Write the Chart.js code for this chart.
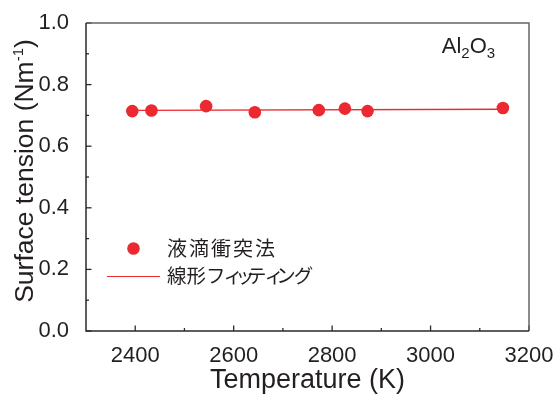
<!DOCTYPE html>
<html>
<head>
<meta charset="utf-8">
<script src="https://cdn.jsdelivr.net/npm/chart.js@4.4.1/dist/chart.umd.min.js"></script>
<style>
  html, body { margin: 0; padding: 0; background: #fff; }
  #wrap { width: 553px; height: 394px; position: relative; }
</style>
</head>
<body>
<div id="wrap"><canvas id="c" width="553" height="394"></canvas></div>
<script>
// ---- data ----
const temperatures = [2394, 2433, 2544, 2643, 2773, 2826, 2872, 3147];
const tensions     = [0.714, 0.716, 0.730, 0.710, 0.717, 0.722, 0.714, 0.724];
const fitTemps     = [2394, 3147];
const fitValues    = [0.716, 0.720];
const xTickValues  = [2400, 2600, 2800, 3000, 3200];
const xMinorValues = [2500, 2700, 2900, 3100];
const yTickValues  = [0.0, 0.2, 0.4, 0.6, 0.8, 1.0];
const yMinorValues = [0.1, 0.3, 0.5, 0.7, 0.9];
const seriesLabels = ['液滴衝突法', '線形フィッティング'];
const xTitle = 'Temperature (K)';
const yTitle = 'Surface tension (Nm';
const ySup = '-1';
const sampleLabel = ['Al', '2', 'O', '3'];

const RED = '#ec2830';
const LATIN = '"Liberation Sans", Arial, Helvetica, sans-serif';
const CJK = '"Noto Sans CJK JP", sans-serif';

// draws text char by char with proportional-like advances for katakana
function drawTight(ctx, text, x, y) {
  const smallKana = 'ァィゥェォッャュョ';
  const kana = /[\u30A0-\u30FF]/;
  for (const ch of text) {
    ctx.fillText(ch, x, y);
    const w = ctx.measureText(ch).width;
    const f = smallKana.includes(ch) ? 0.6 : (kana.test(ch) ? 0.9 : 1.0);
    x += w * f;
  }
}

const decor = {
  id: 'decor',
  beforeDatasetsDraw(chart) {
    const { ctx, chartArea: a, scales: { x, y } } = chart;
    ctx.save();
    ctx.lineWidth = 1.3;
    ctx.strokeStyle = '#2a2a2a';
    const tick = (px, py, dx, dy) => { ctx.beginPath(); ctx.moveTo(px, py); ctx.lineTo(px + dx, py + dy); ctx.stroke(); };
    xTickValues.forEach(v => { const p = x.getPixelForValue(v); tick(p, a.bottom, 0, -5.5); });
    xMinorValues.forEach(v => { const p = x.getPixelForValue(v); tick(p, a.bottom, 0, -3); });
    yTickValues.forEach(v => { const p = y.getPixelForValue(v); tick(a.left, p, 5.5, 0); });
    yMinorValues.forEach(v => { const p = y.getPixelForValue(v); tick(a.left, p, 3, 0); });
    // frame
    ctx.lineWidth = 1.5;
    ctx.strokeStyle = '#666';
    ctx.beginPath();
    ctx.moveTo(a.left, a.top); ctx.lineTo(a.right, a.top); ctx.lineTo(a.right, a.bottom);
    ctx.stroke();
    ctx.strokeStyle = '#2a2a2a';
    ctx.beginPath();
    ctx.moveTo(a.left, a.top); ctx.lineTo(a.left, a.bottom); ctx.lineTo(a.right, a.bottom);
    ctx.stroke();
    ctx.restore();
  },
  afterDraw(chart) {
    const { ctx, chartArea: a } = chart;
    ctx.save();
    ctx.fillStyle = '#231f20';
    // y title with superscript
    ctx.save();
    const fMain = '26.5px ' + LATIN, fSup = '15px ' + LATIN;
    ctx.font = fMain; const w1 = ctx.measureText(yTitle).width; const w3 = ctx.measureText(')').width;
    ctx.font = fSup; const w2 = ctx.measureText(ySup).width;
    const total = w1 + w2 + w3;
    ctx.translate(33, 171);
    ctx.rotate(-Math.PI / 2);
    ctx.textBaseline = 'alphabetic';
    ctx.textAlign = 'left';
    let sx = -total / 2;
    ctx.font = fMain; ctx.fillText(yTitle, sx, 0); sx += w1;
    ctx.font = fSup; ctx.fillText(ySup, sx, -10); sx += w2;
    ctx.font = fMain; ctx.fillText(')', sx, 0);
    ctx.restore();

    // sample label Al2O3
    ctx.textBaseline = 'alphabetic';
    ctx.textAlign = 'left';
    let lx = a.left + (a.right - a.left) * 0.803;
    const ly = a.top + 30;
    const big = '22px ' + LATIN, small = '15px ' + LATIN;
    sampleLabel.forEach((s, i) => {
      ctx.font = (i % 2) ? small : big;
      ctx.fillText(s, lx, (i % 2) ? ly + 5 : ly);
      lx += ctx.measureText(s).width;
    });

    // legend
    const legX = a.left + 21, legTextX = a.left + 81;
    const r1 = a.top + 225.5, r2 = a.top + 253;
    ctx.fillStyle = RED;
    ctx.beginPath(); ctx.arc(a.left + 47.5, r1, 6.3, 0, Math.PI * 2); ctx.fill();
    ctx.strokeStyle = RED; ctx.lineWidth = 1.2;
    ctx.beginPath(); ctx.moveTo(legX, r2 + 0.5); ctx.lineTo(legX + 53, r2 + 0.5); ctx.stroke();
    ctx.fillStyle = '#231f20';
    ctx.textBaseline = 'middle';
    ctx.font = '20px ' + CJK;
    ctx.letterSpacing = '2px';
    ctx.fillText(seriesLabels[0], legTextX, r1);
    ctx.letterSpacing = '0px';
    ctx.font = '19.5px ' + CJK;
    drawTight(ctx, seriesLabels[1], legTextX, r2);
    ctx.restore();
  }
};

new Chart(document.getElementById('c'), {
  data: {
    datasets: [
      {
        type: 'scatter',
        label: seriesLabels[0],
        data: temperatures.map((t, i) => ({ x: t, y: tensions[i] })),
        backgroundColor: RED,
        borderWidth: 0,
        pointRadius: 6.3,
        order: 1
      },
      {
        type: 'line',
        label: seriesLabels[1],
        data: fitTemps.map((t, i) => ({ x: t, y: fitValues[i] })),
        borderColor: RED,
        borderWidth: 1.3,
        pointRadius: 0,
        fill: false,
        order: 2
      }
    ]
  },
  options: {
    responsive: false,
    animation: false,
    devicePixelRatio: 1,
    layout: { padding: { left: 0, right: 24, top: 23, bottom: 0 } },
    plugins: { legend: { display: false }, tooltip: { enabled: false } },
    scales: {
      x: {
        type: 'linear',
        min: 2300, max: 3200,
        afterBuildTicks: s => { s.ticks = xTickValues.map(v => ({ value: v })); },
        afterFit: s => { s.height = 63; s.paddingLeft = 0; s.paddingRight = 0; },
        grid: { display: false },
        border: { display: false },
        ticks: { font: { family: LATIN, size: 22 }, color: '#231f20', padding: 4, maxRotation: 0, autoSkip: false, callback: v => String(v) },
        title: {
          display: true, text: xTitle, color: '#231f20',
          font: { family: LATIN, size: 27, lineHeight: 1 },
          padding: { top: 0, bottom: 0 }
        }
      },
      y: {
        type: 'linear',
        min: 0, max: 1.0,
        afterBuildTicks: s => { s.ticks = yTickValues.map(v => ({ value: v })); },
        afterFit: s => { s.width = 86; s.paddingTop = 0; s.paddingBottom = 0; },
        grid: { display: false },
        border: { display: false },
        ticks: { font: { family: LATIN, size: 22 }, color: '#231f20', padding: 9, callback: v => v.toFixed(1) }
      }
    }
  },
  plugins: [decor]
});
</script>
</body>
</html>
